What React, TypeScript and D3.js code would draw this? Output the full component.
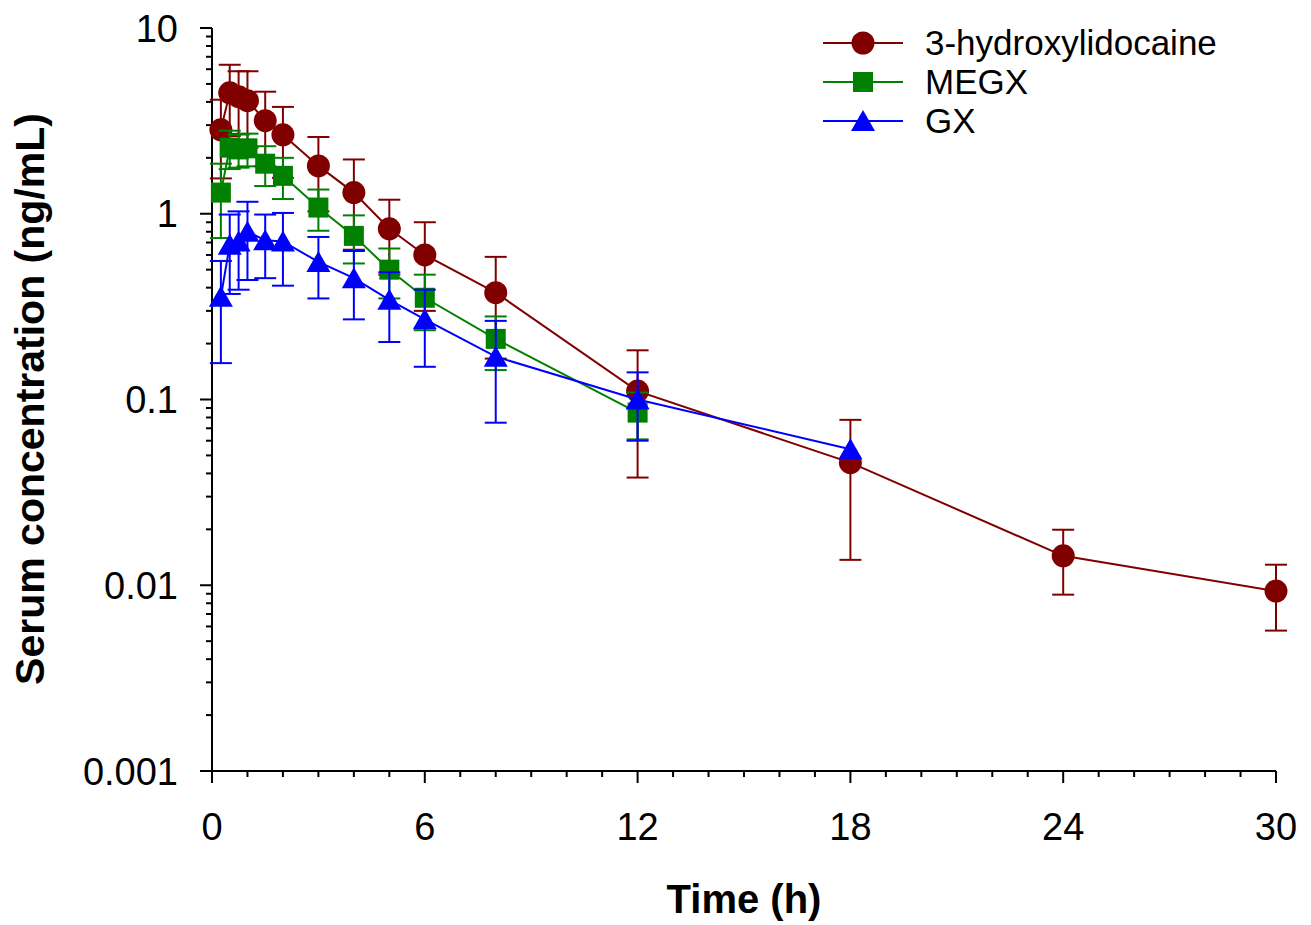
import React from "react";
import * as d3 from "d3";

const hlTimes = [0.25, 0.5, 0.75, 1, 1.5, 2, 3, 4, 5, 6, 8, 12, 18, 24, 30];
const hlMean = [2.83, 4.48, 4.27, 4.06, 3.17, 2.66, 1.81, 1.3, 0.83, 0.6, 0.376, 0.111, 0.0457, 0.0144, 0.0093];
const hlSD = [1.28, 1.86, 1.58, 1.79, 1.37, 1.1, 0.78, 0.66, 0.36, 0.3, 0.21, 0.073, 0.032, 0.0055, 0.0036];

const megxTimes = [0.25, 0.5, 0.75, 1, 1.5, 2, 3, 4, 5, 6, 8, 12];
const megxMean = [1.3, 2.27, 2.22, 2.25, 1.86, 1.6, 1.08, 0.76, 0.5, 0.353, 0.212, 0.085];
const megxSD = [0.56, 0.53, 0.45, 0.45, 0.45, 0.4, 0.27, 0.22, 0.15, 0.117, 0.068, 0.024];

const gxTimes = [0.25, 0.5, 0.75, 1, 1.5, 2, 3, 4, 5, 6, 8, 12, 18];
const gxMean = [0.357, 0.68, 0.71, 0.8, 0.72, 0.71, 0.55, 0.45, 0.344, 0.27, 0.17, 0.1, 0.054];
const gxSD = [0.2, 0.31, 0.32, 0.36, 0.27, 0.3, 0.2, 0.18, 0.14, 0.12, 0.095, 0.04, 0];

const seriesNames = ["3-hydroxylidocaine", "MEGX", "GX"];
const seriesColors = ["#800000", "#008000", "#0000FF"];
const seriesShapes = ["circle", "square", "triangle"];

const xTicksMajor = [0, 6, 12, 18, 24, 30];
const yTicksMajor = [0.001, 0.01, 0.1, 1, 10];
const yTickLabels = ["0.001", "0.01", "0.1", "1", "10"];

const FONT = "'Liberation Sans', Arial, sans-serif";

function Marker({ shape, x, y, color }: { shape: string; x: number; y: number; color: string }) {
  if (shape === "circle") return <circle cx={x} cy={y} r={11.5} fill={color} />;
  if (shape === "square") return <rect x={x - 10} y={y - 10} width={20} height={20} fill={color} />;
  return <path d={`M${x},${y - 11} L${x + 12},${y + 10} L${x - 12},${y + 10} Z`} fill={color} />;
}

export default function App() {
  const x = d3.scaleLinear().domain([0, 30]).range([212, 1276]);
  const y = d3.scaleLog().domain([0.001, 10]).range([771, 28]);

  const series = [
    { t: hlTimes, m: hlMean, s: hlSD },
    { t: megxTimes, m: megxMean, s: megxSD },
    { t: gxTimes, m: gxMean, s: gxSD },
  ];

  const line = d3
    .line<[number, number]>()
    .x((d) => x(d[0]))
    .y((d) => y(d[1]));

  const xMinor = d3.range(0, 31, 1);
  const yMinor: number[] = [];
  for (let e = -3; e < 1; e++) {
    for (let k = 2; k <= 9; k++) yMinor.push(k * Math.pow(10, e));
  }

  const cap = 11;

  return (
    <svg width={1311} height={925} style={{ position: "absolute", left: 0, top: 0, background: "#fff" }}>
      {/* axes */}
      <g stroke="#000" strokeWidth={2}>
        <line x1={x(0)} x2={x(0)} y1={y(10)} y2={y(0.001)} />
        <line x1={x(0)} x2={x(30)} y1={y(0.001)} y2={y(0.001)} />
        {xMinor.map((v) => (
          <line key={"xm" + v} x1={x(v)} x2={x(v)} y1={y(0.001)} y2={y(0.001) + (v % 6 === 0 ? 12 : 6)} />
        ))}
        {yMinor.map((v, i) => (
          <line key={"ym" + i} x1={x(0)} x2={x(0) - 6} y1={y(v)} y2={y(v)} />
        ))}
        {yTicksMajor.map((v) => (
          <line key={"yM" + v} x1={x(0)} x2={x(0) - 12} y1={y(v)} y2={y(v)} />
        ))}
      </g>
      {/* tick labels */}
      <g fontFamily={FONT} fontSize={38} fill="#000">
        {yTicksMajor.map((v, i) => (
          <text key={"yl" + v} x={178} y={y(v)} dy="0.36em" textAnchor="end">
            {yTickLabels[i]}
          </text>
        ))}
        {xTicksMajor.map((v) => (
          <text key={"xl" + v} x={x(v)} y={840} textAnchor="middle">
            {v}
          </text>
        ))}
      </g>
      {/* axis titles */}
      <text x={744} y={913} textAnchor="middle" fontFamily={FONT} fontWeight="bold" fontSize={40}>
        Time (h)
      </text>
      <text
        transform={`translate(44,399) rotate(-90)`}
        textAnchor="middle"
        fontFamily={FONT}
        fontWeight="bold"
        fontSize={41}
      >
        Serum concentration (ng/mL)
      </text>
      {/* series */}
      {series.map((sr, si) => {
        const color = seriesColors[si];
        const pts: [number, number][] = sr.t.map((t, i) => [t, sr.m[i]]);
        return (
          <g key={"s" + si}>
            <g stroke={color} strokeWidth={2}>
              {sr.t.map((t, i) => {
                if (!sr.s[i]) return null;
                const hi = y(sr.m[i] + sr.s[i]);
                const lo = y(sr.m[i] - sr.s[i]);
                const cx = x(t);
                return (
                  <g key={"e" + i}>
                    <line x1={cx} x2={cx} y1={hi} y2={lo} />
                    <line x1={cx - cap} x2={cx + cap} y1={hi} y2={hi} />
                    <line x1={cx - cap} x2={cx + cap} y1={lo} y2={lo} />
                  </g>
                );
              })}
            </g>
            <path d={line(pts) || ""} fill="none" stroke={color} strokeWidth={2} />
            {pts.map((p, i) => (
              <Marker key={"m" + i} shape={seriesShapes[si]} x={x(p[0])} y={y(p[1])} color={color} />
            ))}
          </g>
        );
      })}
      {/* legend */}
      {seriesNames.map((name, i) => {
        const ly = 43 + i * 39;
        return (
          <g key={"lg" + i}>
            <line x1={823} x2={903} y1={ly} y2={ly} stroke={seriesColors[i]} strokeWidth={2} />
            <Marker shape={seriesShapes[i]} x={863} y={ly} color={seriesColors[i]} />
            <text x={925} y={ly + 12} fontFamily={FONT} fontSize={35} fill="#000">
              {name}
            </text>
          </g>
        );
      })}
    </svg>
  );
}
